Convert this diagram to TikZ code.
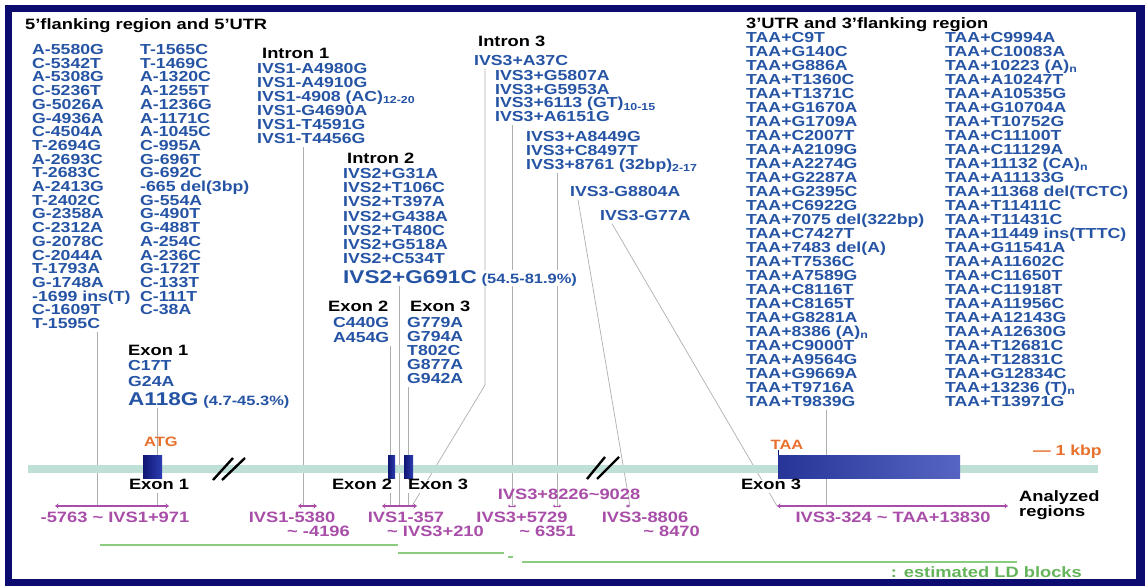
\documentclass[tikz,border=0pt]{standalone}
\usepackage{fontspec}
\setmainfont{Liberation Sans}[FakeStretch=1.22]
\usepackage{xcolor}
\usepackage{tikz}
\usetikzlibrary{arrows.meta}
\pgfdeclarelayer{back}
\pgfsetlayers{back,main}

\definecolor{snpblue}{RGB}{38,84,165}
\definecolor{regpurple}{RGB}{168,78,168}
\definecolor{atgorange}{RGB}{232,112,44}
\definecolor{genebar}{RGB}{190,224,214}
\definecolor{exdark}{RGB}{16,22,115}
\definecolor{exmid}{RGB}{45,62,178}
\definecolor{ldgreen}{RGB}{140,204,128}
\definecolor{ldtext}{RGB}{100,180,90}
\definecolor{framenavy}{RGB}{12,12,112}
\definecolor{leadgrey}{RGB}{175,175,175}

\newcommand{\snpfont}{\fontsize{14.5}{14.5}\selectfont\bfseries}
\newcommand{\hdrfont}{\fontsize{15}{15}\selectfont\bfseries}
\newcommand{\snpbigfont}{\fontsize{18.5}{18.5}\selectfont\bfseries}
\newcommand{\pctfont}{\fontsize{13.5}{13.5}\selectfont\bfseries}
\newcommand{\regfont}{\fontsize{15}{15}\selectfont\bfseries}
\newcommand{\tld}{\textasciitilde}

\begin{document}
\begin{tikzpicture}[x=1pt, y=-1pt,
  every node/.style={inner sep=0pt},
  snp/.style={font=\snpfont, text=snpblue, anchor=west, text height=10pt, text depth=3pt},
  hdr/.style={snp, font=\hdrfont, text=black},
  reg/.style={font=\regfont, text=regpurple, text height=10pt, text depth=3pt},
  leader/.style={draw=leadgrey, line width=0.7pt},
  regspan/.style={draw=regpurple, line width=1.6pt, {Stealth[length=3.5pt,width=5pt]}-{Stealth[length=3.5pt,width=5pt]}},
  tinyspan/.style={draw=regpurple, line width=1pt, {Stealth[length=2pt,width=3pt]}-{Stealth[length=2pt,width=3pt]}},
  ldblock/.style={draw=ldgreen, line width=2pt},
  exon/.style={left color=exdark, right color=exmid, minimum height=23pt, anchor=north west},
  brk/.style={draw=black, line width=2.4pt}]
\useasboundingbox (0,0) rectangle (1145,586);

% Frame
\begin{pgfonlayer}{back}
\fill[white] (0,0) rectangle (1145,586);
\fill[framenavy] (5,5) rectangle (1145,586);
\fill[white] (12,12) rectangle (1136,579);
\end{pgfonlayer}

% 5' flanking region and 5'UTR
\node[hdr] (t5) at (25,26) {5'flanking region and 5'UTR};
\foreach \txt [count=\i] in {A-5580G, C-5342T, A-5308G, C-5236T, G-5026A, G-4936A,
  C-4504A, T-2694G, A-2693C, T-2683C, A-2413G, T-2402C, G-2358A, C-2312A, G-2078C,
  C-2044A, T-1793A, G-1748A, -1699 ins(T), C-1609T, T-1595C}
  \node[snp] (fa\i) at (32,{51+13.7*(\i-1)}) {\txt};
\foreach \txt [count=\i] in {T-1565C, T-1469C, A-1320C, A-1255T, A-1236G, A-1171C,
  A-1045C, C-995A, G-696T, G-692C, -665 del(3bp), G-554A, G-490T, G-488T, A-254C,
  A-236C, G-172T, C-133T, C-111T, C-38A}
  \node[snp] (fb\i) at (140,{51+13.7*(\i-1)}) {\txt};

% Exon 1
\node[hdr] (e1h) at (128,352) {Exon 1};
\node[snp] (e1a) at (128,367) {C17T};
\node[snp] (e1b) at (128,383) {G24A};
\node[snp, text height=13pt] (e1c) at (128,400) {{\snpbigfont A118G}\ {\pctfont(4.7-45.3\%)}};

% Intron 1
\node[hdr] (i1h) at (262,55) {Intron 1};
\foreach \txt [count=\i] in {IVS1-A4980G, IVS1-A4910G, IVS1-4908 (AC)\textsubscript{12-20},
  IVS1-G4690A, IVS1-T4591G, IVS1-T4456G}
  \node[snp] (ia\i) at (257,{70+14*(\i-1)}) {\txt};

% Intron 2
\node[hdr] (i2h) at (347,160) {Intron 2};
\foreach \txt [count=\i] in {IVS2+G31A, IVS2+T106C, IVS2+T397A, IVS2+G438A,
  IVS2+T480C, IVS2+G518A, IVS2+C534T}
  \node[snp] (ib\i) at (343,{175+14.2*(\i-1)}) {\txt};
\node[snp, text height=13pt, fill=white] (ib8) at (343,278) {{\snpbigfont IVS2+G691C}\ {\pctfont(54.5-81.9\%)}};

% Exon 2 and Exon 3
\node[hdr] (e2h) at (328,308) {Exon 2};
\node[snp] (e2a) at (333,324) {C440G};
\node[snp] (e2b) at (333,339) {A454G};
\node[hdr] (e3h) at (410,308) {Exon 3};
\foreach \txt [count=\i] in {G779A, G794A, T802C, G877A, G942A}
  \node[snp] (ec\i) at (407,{324+14*(\i-1)}) {\txt};

% Intron 3
\node[hdr] (i3h) at (478,43) {Intron 3};
\node[snp] (ic1) at (474,62) {IVS3+A37C};
\foreach \txt [count=\i] in {IVS3+G5807A, IVS3+G5953A, IVS3+6113 (GT)\textsubscript{10-15}, IVS3+A6151G}
  \node[snp] (id\i) at (495,{77+13.7*(\i-1)}) {\txt};
\foreach \txt [count=\i] in {IVS3+A8449G, IVS3+C8497T, IVS3+8761 (32bp)\textsubscript{2-17}}
  \node[snp] (ie\i) at (526,{138+14*(\i-1)}) {\txt};
\node[snp] (if1) at (570,193) {IVS3-G8804A};
\node[snp] (if2) at (600,217) {IVS3-G77A};

% 3'UTR and 3' flanking region
\node[hdr] (t3) at (746,25) {3'UTR and 3'flanking region};
\foreach \txt [count=\i] in {TAA+C9T, TAA+G140C, TAA+G886A, TAA+T1360C, TAA+T1371C,
  TAA+G1670A, TAA+G1709A, TAA+C2007T, TAA+A2109G, TAA+A2274G, TAA+G2287A,
  TAA+G2395C, TAA+C6922G, TAA+7075 del(322bp), TAA+C7427T, TAA+7483 del(A),
  TAA+T7536C, TAA+A7589G, TAA+C8116T, TAA+C8165T, TAA+G8281A,
  TAA+8386 (A)\textsubscript{n}, TAA+C9000T, TAA+A9564G, TAA+G9669A, TAA+T9716A, TAA+T9839G}
  \node[snp] (tc\i) at (746,{39+14*(\i-1)}) {\txt};
\foreach \txt [count=\i] in {TAA+C9994A, TAA+C10083A, TAA+10223 (A)\textsubscript{n},
  TAA+A10247T, TAA+A10535G, TAA+G10704A, TAA+T10752G, TAA+C11100T, TAA+C11129A,
  TAA+11132 (CA)\textsubscript{n}, TAA+A11133G, TAA+11368 del(TCTC), TAA+T11411C,
  TAA+T11431C, TAA+11449 ins(TTTC), TAA+G11541A, TAA+A11602C, TAA+C11650T,
  TAA+C11918T, TAA+A11956C, TAA+A12143G, TAA+A12630G, TAA+T12681C, TAA+T12831C,
  TAA+G12834C, TAA+13236 (T)\textsubscript{n}, TAA+T13971G}
  \node[snp] (td\i) at (945,{39+14*(\i-1)}) {\txt};

% Analyzed regions
\coordinate (r1l) at (55,506);   \coordinate (r1r) at (169,506);
\coordinate (r2l) at (298,506);  \coordinate (r2r) at (317,506);
\coordinate (r3l) at (382,506);  \coordinate (r3r) at (417,506);
\coordinate (r4l) at (508,506);  \coordinate (r4r) at (516,506);
\coordinate (r5l) at (553,506);  \coordinate (r5r) at (561,506);
\coordinate (r6l) at (626,506);  \coordinate (r6r) at (630,506);
\coordinate (r7l) at (777,506);  \coordinate (r7r) at (1008,506);
\draw[regspan] (r1l) -- (r1r);
\draw[regspan] (r2l) -- (r2r);
\draw[regspan] (r3l) -- (r3r);
\draw[tinyspan] (r4l) -- (r4r);
\draw[tinyspan] (r5l) -- (r5r);
\draw[tinyspan] (r6l) -- (r6r);
\draw[regspan] (r7l) -- (r7r);
\node[reg] (r1t) at (115,519) {-5763 \tld\ IVS1+971};
\node[reg] (r2t) at (292,519) {IVS1-5380};
\node[reg, anchor=east] (r2u) at (350,533) {\tld\ -4196};
\node[reg] (r3t) at (406,519) {IVS1-357};
\node[reg, anchor=west] (r3u) at (387,533) {\tld\ IVS3+210};
\node[reg] (r5t) at (569,496) {IVS3+8226\tld 9028};
\node[reg] (r4t) at (522,519) {IVS3+5729};
\node[reg, anchor=east] (r4u) at (576,533) {\tld\ 6351};
\node[reg] (r6t) at (645,519) {IVS3-8806};
\node[reg, anchor=east] (r6u) at (700,533) {\tld\ 8470};
\node[reg] (r7t) at (893,519) {IVS3-324 \tld\ TAA+13830};
\node[hdr] (an1) at (1019,498) {Analyzed};
\node[hdr] (an2) at (1019,513) {regions};

% Leader lines
\coordinate (r1m) at (97,506);
\coordinate (ex1top) at (157,455);
\coordinate (r1e) at (157,506);
\coordinate (r2m) at (303,506);
\coordinate (r3a) at (390,506);
\coordinate (r3b) at (399,506);
\coordinate (r3c) at (408,506);
\coordinate (c37) at (485,385);
\coordinate (r3d) at (412,506);
\coordinate (r4m) at (512,506);
\coordinate (r5m) at (557,506);
\coordinate (r7m) at (826,506);

% Gene structure
\draw[genebar, line width=8pt] (28,469) -- (1098,469);
\node[exon, minimum width=19pt] (ex1) at (143,455) {};
\node[exon, minimum width=7pt] (ex2) at (388,455) {};
\node[exon, minimum width=9pt] (ex3) at (404,455) {};
\node[exon, minimum width=182pt, left color=exmid!85!black, right color=exmid!80!white] (ex3b) at (778,455) {};
\draw[brk] (213,480) -- (233,458);
\draw[brk] (222,480) -- (245,458);
\draw[brk] (587,479) -- (605,457);
\draw[brk] (597,479) -- (619,457);
\node[font=\pctfont, text=atgorange] (atg) at (161,442) {ATG};
\node[font=\pctfont, text=atgorange] (taa) at (787,445) {TAA};
\draw[exdark, line width=0.8pt] (taa.south -| ex3b.north west) -- (ex3b.north west);
\node[font=\snpfont, text=atgorange, anchor=east] (kbp) at (1102,452) {--- 1 kbp};
\node[hdr, anchor=center, fill=white] (e1l) at (159,486) {Exon 1};
\node[hdr, anchor=center, fill=white] (e2l) at (362,486) {Exon 2};
\node[hdr, anchor=center, fill=white] (e3l) at (438,486) {Exon 3};
\node[hdr, anchor=center, fill=white] (e3r) at (771,486) {Exon 3};

\begin{pgfonlayer}{back}
\draw[leader] (fa21.south -| r1m) -- (r1m);
\draw[leader] (e1c.south -| ex1top) -- (ex1top);
\draw[leader] (e1l.south -| r1e) -- (r1e);
\draw[leader] (ia6.south -| r2m) -- (r2m);
\draw[leader] (e2b.south -| r3a) -- (r3a);
\draw[leader] (ib8.south -| r3b) -- (r3b);
\draw[leader] (ec5.south -| r3c) -- (r3c);
\draw[leader] (ic1.south -| c37) -- (c37) -- (r3d);
\draw[leader] (id4.south -| r4m) -- (r4m);
\draw[leader] (ie3.south -| r5m) -- (r5m);
\draw[leader] ([xshift=8pt]if1.south west) -- (r6r);
\draw[leader] ([xshift=12pt]if2.south west) -- (r7l);
\draw[leader] (tc27.south -| r7m) -- (r7m);
\end{pgfonlayer}

% Estimated LD blocks
\coordinate (ld1a) at (100,545);  \coordinate (ld1b) at (398,545);
\coordinate (ld2a) at (398,553);  \coordinate (ld2b) at (504,553);
\coordinate (ld3a) at (508,557);  \coordinate (ld3b) at (513,557);
\coordinate (ld4a) at (522,562);  \coordinate (ld4b) at (1017,562);
\draw[ldblock] (ld1a) -- (ld1b);
\draw[ldblock] (ld2a) -- (ld2b);
\draw[ldblock] (ld3a) -- (ld3b);
\draw[ldblock] (ld4a) -- (ld4b);
\node[font=\regfont, text=ldtext, anchor=east] (ldt) at (1082,572) {: estimated LD blocks};

\end{tikzpicture}
\end{document}
